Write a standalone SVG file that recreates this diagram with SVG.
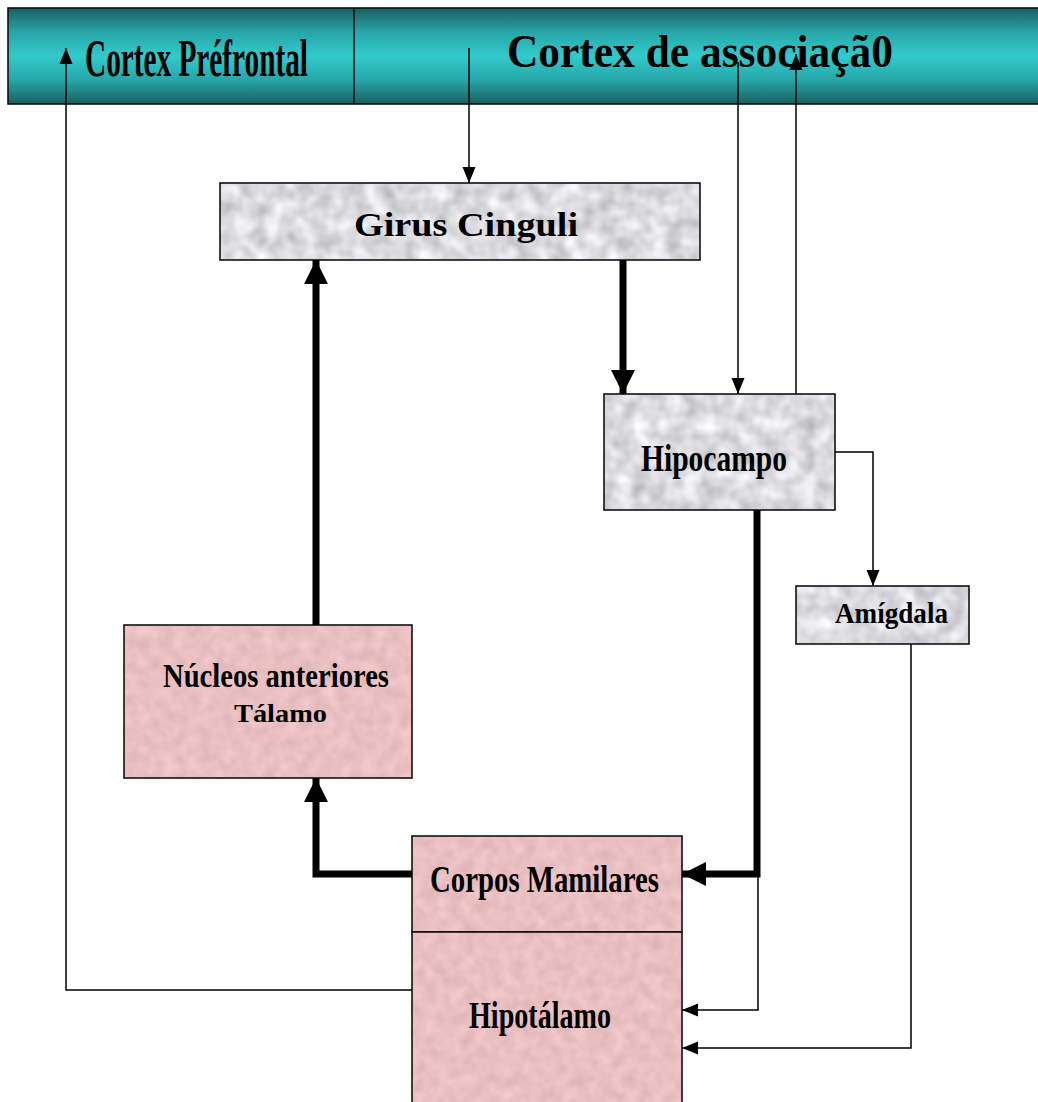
<svg xmlns="http://www.w3.org/2000/svg" width="1038" height="1102" viewBox="0 0 1038 1102">
<style>
.box{stroke:#111;stroke-width:1.6;}
.lbl{font-family:"Liberation Serif","DejaVu Serif",serif;font-weight:bold;fill:#000;}
.thin{fill:none;stroke:#000;stroke-width:1.5;}
.thick{fill:none;stroke:#000;stroke-width:7;}
</style>
<defs>
<linearGradient id="teal" x1="0" y1="0" x2="0" y2="1">
<stop offset="0" stop-color="#1a5f61"/>
<stop offset="0.25" stop-color="#27a6a8"/>
<stop offset="0.5" stop-color="#33cacc"/>
<stop offset="0.75" stop-color="#27a6a8"/>
<stop offset="1" stop-color="#1a5f61"/>
</linearGradient>
<filter id="marble" x="0" y="0" width="1" height="1" color-interpolation-filters="sRGB">
<feTurbulence type="fractalNoise" baseFrequency="0.06" numOctaves="2" seed="3" result="n"/>
<feColorMatrix in="n" type="matrix" values="0.36 0 0 0 0.68  0.36 0 0 0 0.68  0.36 0 0 0 0.70  0 0 0 0 1" result="c"/>
<feComposite in="c" in2="SourceGraphic" operator="in"/>
</filter>
<filter id="pinkn" x="0" y="0" width="1" height="1" color-interpolation-filters="sRGB">
<feTurbulence type="fractalNoise" baseFrequency="0.08" numOctaves="2" seed="7" result="n"/>
<feColorMatrix in="n" type="matrix" values="0.12 0 0 0 0.86  0.12 0 0 0 0.69  0.12 0 0 0 0.70  0 0 0 0 1" result="c"/>
<feComposite in="c" in2="SourceGraphic" operator="in"/>
</filter>
<marker id="ah" markerUnits="userSpaceOnUse" markerWidth="16" markerHeight="16" viewBox="0 0 16 16" refX="16" refY="8" orient="auto">
<path d="M0,1.5 L16,8 L0,14.5 Z" fill="#000"/>
</marker>
<marker id="ahT" markerUnits="userSpaceOnUse" markerWidth="24" markerHeight="26" viewBox="0 0 24 26" refX="24" refY="13" orient="auto">
<path d="M0,1 L24,13 L0,25 Z" fill="#000"/>
</marker>
</defs>

<g id="header">
<rect x="8" y="8" width="1032" height="96" fill="url(#teal)" class="box" stroke-width="2"/>
<line x1="354" y1="8" x2="354" y2="104" stroke="#111" stroke-width="1.6"/>
</g>
<g id="cortex-prefrontal">
<text class="lbl" x="85" y="76" font-size="52" textLength="223" lengthAdjust="spacingAndGlyphs" font-weight="normal">Cortex Préfrontal</text>
</g>
<g id="cortex-associacao">
<text class="lbl" x="507" y="67" font-size="46" textLength="386" lengthAdjust="spacingAndGlyphs">Cortex de associaçã0</text>
</g>

<g id="girus-cinguli">
<rect x="220" y="183" width="480" height="77" fill="#dcdcdf" filter="url(#marble)"/>
<rect x="220" y="183" width="480" height="77" fill="none" class="box"/>
<text class="lbl" x="354" y="236" font-size="34" textLength="224" lengthAdjust="spacingAndGlyphs">Girus Cinguli</text>
</g>

<g id="hipocampo">
<rect x="604" y="394" width="231" height="116" fill="#dcdcdf" filter="url(#marble)"/>
<rect x="604" y="394" width="231" height="116" fill="none" class="box"/>
<text class="lbl" x="641" y="471" font-size="38" textLength="146" lengthAdjust="spacingAndGlyphs" font-weight="normal">Hipocampo</text>
</g>

<g id="amigdala">
<rect x="796" y="586" width="173" height="58" fill="#dcdcdf" filter="url(#marble)"/>
<rect x="796" y="586" width="173" height="58" fill="none" class="box"/>
<text class="lbl" x="835" y="623" font-size="30" textLength="113" lengthAdjust="spacingAndGlyphs">Amígdala</text>
</g>

<g id="nucleos-anteriores">
<rect x="124" y="625" width="288" height="153" fill="#e8bcbe" filter="url(#pinkn)"/>
<rect x="124" y="625" width="288" height="153" fill="none" class="box"/>
<text class="lbl" x="163" y="687" font-size="34" textLength="226" lengthAdjust="spacingAndGlyphs">Núcleos anteriores</text>
<text class="lbl" x="234" y="722" font-size="26" textLength="93" lengthAdjust="spacingAndGlyphs">Tálamo</text>
</g>

<g id="corpos-mamilares">
<rect x="412" y="836" width="270" height="96" fill="#e8bcbe" filter="url(#pinkn)"/>
<rect x="412" y="836" width="270" height="96" fill="none" class="box"/>
<text class="lbl" x="430" y="892" font-size="38" textLength="229" lengthAdjust="spacingAndGlyphs">Corpos Mamilares</text>
</g>

<g id="hipotalamo">
<rect x="412" y="932" width="270" height="172" fill="#e8bcbe" filter="url(#pinkn)"/>
<rect x="412" y="932" width="270" height="172" fill="none" class="box"/>
<text class="lbl" x="469" y="1028" font-size="38" textLength="142" lengthAdjust="spacingAndGlyphs" font-weight="normal">Hipotálamo</text>
</g>

<g id="connectors">
<polyline class="thin" points="412,990 66,990 66,48" marker-end="url(#ah)"/>
<polyline class="thin" points="469,48 469,183" marker-end="url(#ah)"/>
<polyline class="thin" points="738,62 738,394" marker-end="url(#ah)"/>
<polyline class="thin" points="796,394 796,54" marker-end="url(#ah)"/>
<polyline class="thin" points="835,452 873,452 873,586" marker-end="url(#ah)"/>
<polyline class="thin" points="911,644 911,1048 682,1048" marker-end="url(#ah)"/>
<polyline class="thin" points="758,874 758,1010 682,1010" marker-end="url(#ah)"/>
<polyline class="thick" points="623,260 623,394" marker-end="url(#ahT)"/>
<polyline class="thick" points="757,510 757,874 682,874" marker-end="url(#ahT)"/>
<polyline class="thick" points="316,625 316,260" marker-end="url(#ahT)"/>
<polyline class="thick" points="412,874 316,874 316,778" marker-end="url(#ahT)"/>
</g>
</svg>
